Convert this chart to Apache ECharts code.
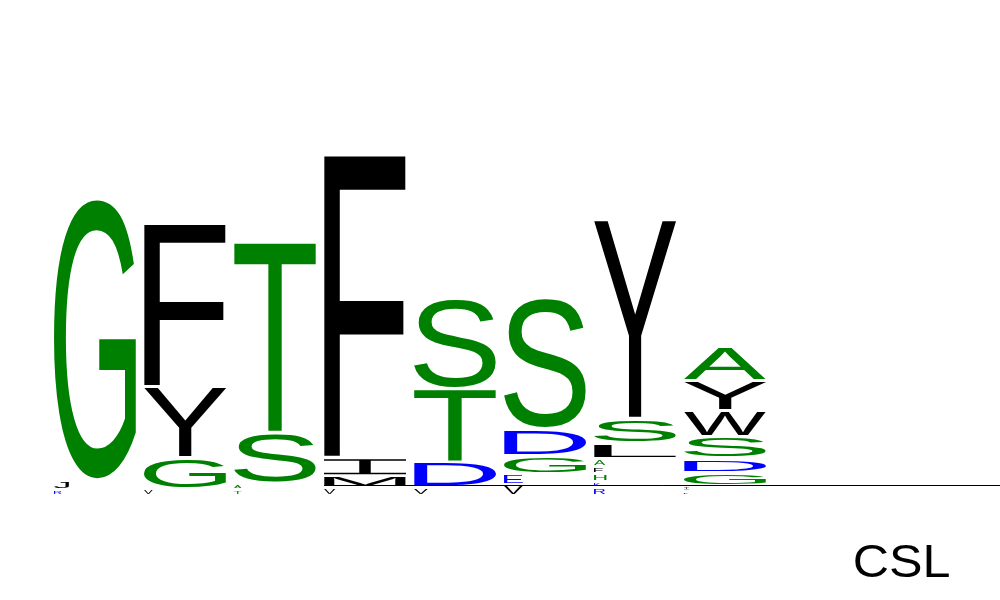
<!DOCTYPE html>
<html>
<head>
<meta charset="utf-8">
<script src="https://cdn.jsdelivr.net/npm/echarts@6/dist/echarts.min.js"></script>
<style>
html, body { margin: 0; background: #fff; }
#main { width: 1000px; height: 600px; }
</style>
</head>
<body>
<div id="main"></div>
<script>
// logo columns, letters listed bottom to top, heights in bits
var positions = [0, 1, 2, 3, 4, 5, 6, 7];
var col1Letters = ['R', 'J', 'G'];
var col1Heights = [0.065, 0.095, 2.82];
var col2Letters = ['V', 'G', 'Y', 'F'];
var col2Heights = [0.07, 0.31, 0.71, 1.64];
var col3Letters = ['T', 'A', 'S', 'T'];
var col3Heights = [0.065, 0.065, 0.505, 1.925];
var col4Letters = ['V', 'M', 'I', 'F'];
var col4Heights = [0.08, 0.12, 0.185, 3.035];
var col5Letters = ['V', 'D', 'T', 'S'];
var col5Heights = [0.09, 0.245, 0.74, 0.915];
var col6Letters = ['V', 'E', 'G', 'D', 'S'];
var col6Heights = [0.11, 0.11, 0.185, 0.27, 1.325];
var col7Letters = ['R', 'K', 'H', 'F', 'A', 'L', 'S', 'Y'];
var col7Heights = [0.08, 0.06, 0.085, 0.07, 0.08, 0.155, 0.245, 1.995];
var col8Letters = ['L', 'I', 'G', 'D', 'S', 'W', 'Y', 'A'];
var col8Heights = [0.05, 0.055, 0.13, 0.14, 0.215, 0.26, 0.30, 0.34];
var baseLineX = [2.544, 10.06];
var baseLineY = 0.105;
var logoName = 'CSL';

var letterCols = [col1Letters, col2Letters, col3Letters, col4Letters, col5Letters, col6Letters, col7Letters, col8Letters];
var heightCols = [col1Heights, col2Heights, col3Heights, col4Heights, col5Heights, col6Heights, col7Heights, col8Heights];

var greenSet = 'GSTAHNQC';
var blueSet = 'DERK';
function colorOf(ch) {
    if (greenSet.indexOf(ch) >= 0) return '#008000';
    if (blueSet.indexOf(ch) >= 0) return '#0000ff';
    return '#000000';
}

var FONT = 'Liberation Sans';
var FS = 200;
var letterWidth = 82 / 90;
var pad = 1.75;
var tinyPx = 11.5;
var iPath = 'M0 0H10V1H5.7V9H10V10H0V9H4.3V1H0Z';

// ink box of a string, relative to a left / middle anchor
function inkBox(str, size) {
    var c = document.createElement('canvas').getContext('2d');
    c.font = size + 'px "' + FONT + '"';
    c.textBaseline = 'middle';
    c.textAlign = 'left';
    var m = c.measureText(str);
    return {
        left: -m.actualBoundingBoxLeft,
        right: m.actualBoundingBoxRight,
        top: -m.actualBoundingBoxAscent,
        bottom: m.actualBoundingBoxDescent
    };
}
var metrics = {};
function measure(ch) {
    if (!metrics[ch]) metrics[ch] = inkBox(ch, FS);
    return metrics[ch];
}

var logoData = [];
var flatLetters = [];
for (var i = 0; i < positions.length; i++) {
    var base = 0;
    for (var j = 0; j < letterCols[i].length; j++) {
        var h = heightCols[i][j];
        logoData.push([positions[i], base, base + h]);
        flatLetters.push(letterCols[i][j]);
        base += h;
    }
}

function renderLetter(params, api) {
    var ch = flatLetters[params.dataIndex];
    var pBot = api.coord([api.value(0), api.value(1)]);
    var pTop = api.coord([api.value(0), api.value(2)]);
    var fullW = api.size([letterWidth, 0])[0];
    var left = pBot[0] - fullW / 2;
    var boxH = pBot[1] - pTop[1];
    var top = pTop[1] + pad;
    var hpx = boxH - 2 * pad;
    if (hpx < 1) { hpx = 1; top = pBot[1] - pad - 1; }
    var w = fullW;
    if (boxH < tinyPx) w = Math.min(fullW, hpx * 2.5);
    var color = colorOf(ch);
    if (ch === 'I') {
        return {
            type: 'path',
            shape: { pathData: iPath, x: left, y: top, width: w, height: hpx, layout: 'cover' },
            style: { fill: color }
        };
    }
    var m = measure(ch);
    var sx = w / (m.right - m.left);
    var sy = hpx / (m.bottom - m.top);
    return {
        type: 'text',
        x: left - m.left * sx,
        y: top - m.top * sy,
        scaleX: sx,
        scaleY: sy,
        style: {
            text: ch,
            fontSize: FS,
            fontFamily: FONT,
            fill: color,
            align: 'left',
            verticalAlign: 'middle',
            textAlign: 'left',
            textVerticalAlign: 'middle'
        }
    };
}

// name label, stretched to the box it has in the picture
var nm = inkBox(logoName, 44);
var nameSx = 95 / (nm.right - nm.left);
var nameSy = 32 / (nm.bottom - nm.top);

var chart = echarts.init(document.getElementById('main'));
var option = {
    backgroundColor: '#ffffff',
    animation: false,
    grid: { left: 5, right: 0, top: 96, bottom: 104 },
    xAxis: { type: 'value', min: -1, max: 995 / 90 - 1, show: false },
    yAxis: { type: 'value', min: 0, max: 4, show: false },
    graphic: [{
        type: 'text',
        x: 855 - nm.left * nameSx,
        y: 545 - nm.top * nameSy,
        scaleX: nameSx,
        scaleY: nameSy,
        style: { text: logoName, fontSize: 44, fontFamily: FONT, fill: '#000', align: 'left', verticalAlign: 'middle' }
    }],
    series: [
        {
            type: 'line',
            data: [[baseLineX[0], baseLineY], [baseLineX[1], baseLineY]],
            symbol: 'none',
            silent: true,
            lineStyle: { color: '#000', width: 1 }
        },
        {
            type: 'custom',
            silent: true,
            renderItem: renderLetter,
            data: logoData
        }
    ]
};
chart.setOption(option);
</script>
</body>
</html>
